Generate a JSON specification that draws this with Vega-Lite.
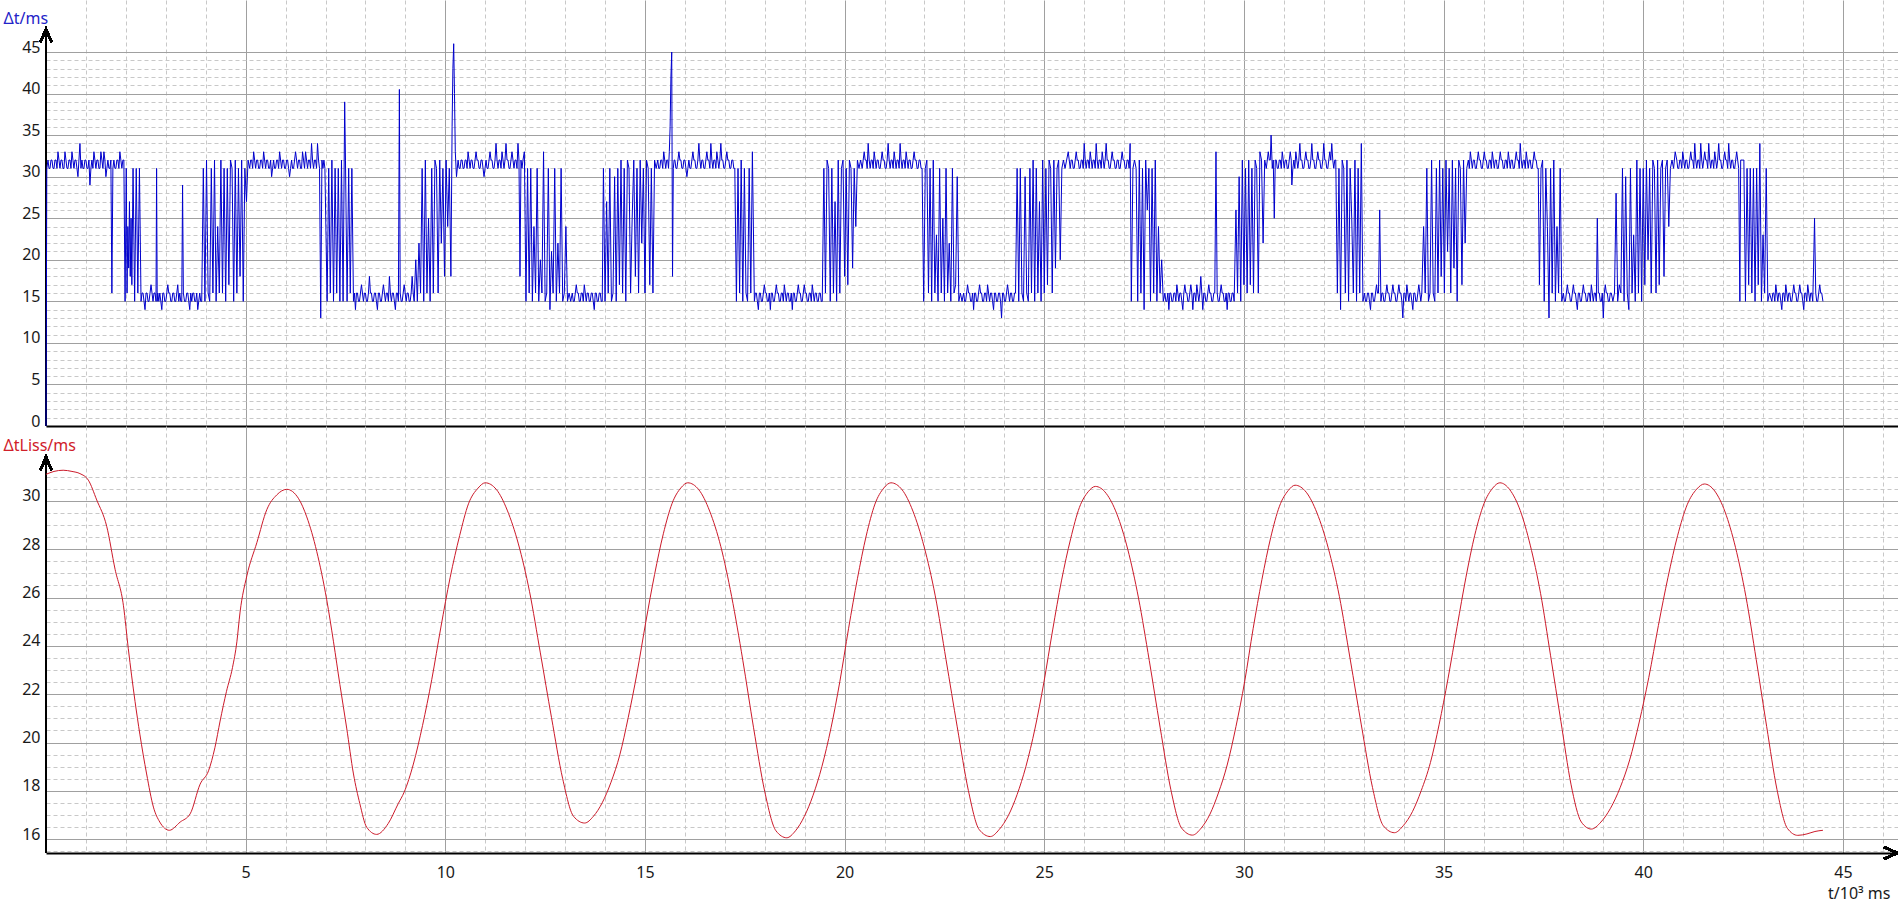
{
"$schema": "https://vega.github.io/schema/vega-lite/v6.json",
"padding": {"left": 3, "top": 0, "right": 0, "bottom": 4},
"background": "white",
"spacing": 0,
"bounds": "flush",
"config": {
  "view": {"stroke": null},
  "font": "Noto Sans",
  "axis": {"labelFont": "Noto Sans", "titleFont": "Noto Sans", "labelFontSize": 16, "titleFontSize": 16, "labelColor": "#1a1a1a", "titleColor": "#1a1a1a", "titleFontWeight": "normal", "ticks": false, "tickSize": 0, "domain": false, "labelFlush": false}
},
"datasets": {
"dt": [{"t":0,"v":0},{"t":0.02,"v":31},
{"t":0.05,"v":32},{"t":0.075,"v":31},{"t":0.1,"v":31},{"t":0.125,"v":32},{"t":0.15,"v":32},{"t":0.175,"v":31},{"t":0.2,"v":31},{"t":0.225,"v":32},{"t":0.25,"v":32},{"t":0.275,"v":31},{"t":0.3,"v":33},{"t":0.325,"v":32},{"t":0.35,"v":31},{"t":0.375,"v":32},{"t":0.4,"v":32},{"t":0.425,"v":31},{"t":0.45,"v":31},{"t":0.475,"v":33},{"t":0.5,"v":32},{"t":0.525,"v":31},{"t":0.55,"v":31},{"t":0.575,"v":32},{"t":0.6,"v":32},{"t":0.625,"v":31},{"t":0.65,"v":33},{"t":0.675,"v":32},{"t":0.7,"v":31},{"t":0.725,"v":32},{"t":0.75,"v":32},{"t":0.775,"v":31},{"t":0.8,"v":30},{"t":0.825,"v":32},{"t":0.85,"v":34},{"t":0.875,"v":31},{"t":0.9,"v":32},{"t":0.925,"v":31},{"t":0.95,"v":31},{"t":0.975,"v":32},{"t":1,"v":32},{"t":1.025,"v":31},{"t":1.05,"v":31},{"t":1.075,"v":32},{"t":1.1,"v":29},{"t":1.125,"v":31},{"t":1.15,"v":32},{"t":1.175,"v":31},{"t":1.2,"v":33},{"t":1.225,"v":32},{"t":1.25,"v":31},{"t":1.275,"v":32},{"t":1.3,"v":32},{"t":1.325,"v":31},{"t":1.35,"v":31},{"t":1.375,"v":33},{"t":1.4,"v":32},{"t":1.425,"v":31},{"t":1.45,"v":33},{"t":1.475,"v":32},{"t":1.5,"v":30},{"t":1.525,"v":31},{"t":1.55,"v":32},{"t":1.575,"v":31},{"t":1.6,"v":31},{"t":1.625,"v":32},{"t":1.65,"v":16},{"t":1.675,"v":31},{"t":1.7,"v":32},{"t":1.725,"v":31},{"t":1.75,"v":31},{"t":1.775,"v":32},{"t":1.8,"v":32},{"t":1.825,"v":31},{"t":1.85,"v":33},{"t":1.875,"v":32},{"t":1.9,"v":31},{"t":1.925,"v":32},{"t":1.95,"v":32},
{"t":1.98,"v":15},{"t":2.01,"v":31},{"t":2.03,"v":16},{"t":2.05,"v":24},{"t":2.07,"v":19},{"t":2.09,"v":27},{"t":2.11,"v":18},{"t":2.13,"v":25},{"t":2.15,"v":17},{"t":2.18,"v":31},{"t":2.22,"v":15},{"t":2.26,"v":31},{"t":2.3,"v":16},{"t":2.34,"v":31},
{"t":2.38,"v":15},{"t":2.405,"v":16},{"t":2.43,"v":16},{"t":2.455,"v":15},{"t":2.48,"v":14},{"t":2.505,"v":16},{"t":2.53,"v":16},{"t":2.555,"v":15},{"t":2.58,"v":15},{"t":2.605,"v":16},{"t":2.63,"v":17},{"t":2.655,"v":16},{"t":2.68,"v":15},{"t":2.705,"v":16},{"t":2.73,"v":16},{"t":2.755,"v":15},{"t":2.77,"v":31},{"t":2.785,"v":15},{"t":2.8,"v":16},{"t":2.825,"v":15},{"t":2.85,"v":16},{"t":2.875,"v":15},{"t":2.9,"v":14},{"t":2.925,"v":16},{"t":2.95,"v":16},{"t":2.975,"v":15},{"t":3,"v":15},{"t":3.025,"v":16},{"t":3.05,"v":17},{"t":3.075,"v":16},{"t":3.1,"v":16},{"t":3.125,"v":15},{"t":3.15,"v":15},{"t":3.175,"v":16},{"t":3.2,"v":16},{"t":3.225,"v":15},{"t":3.25,"v":15},{"t":3.275,"v":16},{"t":3.3,"v":17},{"t":3.325,"v":15},{"t":3.35,"v":16},{"t":3.375,"v":15},{"t":3.4,"v":15},{"t":3.42,"v":29},{"t":3.44,"v":16},{"t":3.47,"v":15},{"t":3.5,"v":15},{"t":3.525,"v":16},{"t":3.55,"v":16},{"t":3.575,"v":15},{"t":3.6,"v":14},{"t":3.625,"v":16},{"t":3.65,"v":15},{"t":3.675,"v":16},{"t":3.7,"v":16},{"t":3.725,"v":15},{"t":3.75,"v":15},{"t":3.775,"v":16},{"t":3.8,"v":14},{"t":3.825,"v":15},{"t":3.85,"v":16},{"t":3.875,"v":15},{"t":3.9,"v":15},
{"t":3.94,"v":31},{"t":3.98,"v":15},{"t":4.02,"v":32},{"t":4.06,"v":16},{"t":4.1,"v":15},{"t":4.14,"v":31},{"t":4.18,"v":16},{"t":4.22,"v":32},{"t":4.26,"v":15},{"t":4.3,"v":24},{"t":4.34,"v":16},{"t":4.38,"v":32},{"t":4.42,"v":16},{"t":4.46,"v":31},{"t":4.5,"v":15},{"t":4.54,"v":31},{"t":4.58,"v":17},{"t":4.62,"v":32},{"t":4.66,"v":31},{"t":4.7,"v":15},{"t":4.74,"v":32},{"t":4.78,"v":16},{"t":4.82,"v":31},{"t":4.86,"v":18},{"t":4.9,"v":32},{"t":4.94,"v":15},{"t":4.98,"v":31},{"t":5.02,"v":27},{"t":5.06,"v":32},
{"t":5.1,"v":31},{"t":5.125,"v":32},{"t":5.15,"v":32},{"t":5.175,"v":31},{"t":5.2,"v":33},{"t":5.225,"v":32},{"t":5.25,"v":31},{"t":5.275,"v":32},{"t":5.3,"v":32},{"t":5.325,"v":31},{"t":5.35,"v":31},{"t":5.375,"v":32},{"t":5.4,"v":32},{"t":5.425,"v":31},{"t":5.45,"v":33},{"t":5.475,"v":32},{"t":5.5,"v":31},{"t":5.525,"v":32},{"t":5.55,"v":32},{"t":5.575,"v":31},{"t":5.6,"v":31},{"t":5.625,"v":32},{"t":5.65,"v":30},{"t":5.675,"v":31},{"t":5.7,"v":32},{"t":5.725,"v":31},{"t":5.75,"v":31},{"t":5.775,"v":32},{"t":5.8,"v":32},{"t":5.825,"v":31},{"t":5.85,"v":33},{"t":5.875,"v":32},{"t":5.9,"v":31},{"t":5.925,"v":32},{"t":5.95,"v":32},{"t":5.975,"v":31},{"t":6,"v":31},{"t":6.025,"v":32},{"t":6.05,"v":32},{"t":6.075,"v":31},{"t":6.1,"v":30},{"t":6.125,"v":31},{"t":6.15,"v":32},{"t":6.175,"v":31},{"t":6.2,"v":31},{"t":6.225,"v":32},{"t":6.25,"v":33},{"t":6.275,"v":32},{"t":6.3,"v":31},{"t":6.325,"v":32},{"t":6.35,"v":32},{"t":6.375,"v":31},{"t":6.4,"v":31},{"t":6.425,"v":33},{"t":6.45,"v":32},{"t":6.475,"v":31},{"t":6.5,"v":33},{"t":6.525,"v":32},{"t":6.55,"v":31},{"t":6.575,"v":32},{"t":6.6,"v":32},{"t":6.625,"v":31},{"t":6.65,"v":34},{"t":6.675,"v":32},{"t":6.7,"v":31},{"t":6.725,"v":32},{"t":6.75,"v":32},{"t":6.775,"v":31},{"t":6.8,"v":34},{"t":6.825,"v":32},{"t":6.85,"v":31},{"t":6.88,"v":13},{"t":6.91,"v":32},{"t":6.935,"v":31},{"t":6.96,"v":32},{"t":6.985,"v":31},
{"t":7.04,"v":15},{"t":7.08,"v":31},{"t":7.12,"v":16},{"t":7.16,"v":32},{"t":7.2,"v":15},{"t":7.24,"v":31},{"t":7.28,"v":16},{"t":7.32,"v":31},{"t":7.36,"v":15},{"t":7.4,"v":32},{"t":7.44,"v":15},{"t":7.48,"v":39},{"t":7.5,"v":32},{"t":7.54,"v":15},{"t":7.58,"v":31},{"t":7.62,"v":16},{"t":7.66,"v":31},
{"t":7.7,"v":15},{"t":7.725,"v":16},{"t":7.75,"v":14},{"t":7.775,"v":16},{"t":7.8,"v":16},{"t":7.825,"v":15},{"t":7.85,"v":15},{"t":7.875,"v":16},{"t":7.9,"v":17},{"t":7.925,"v":16},{"t":7.95,"v":15},{"t":7.975,"v":16},{"t":8,"v":16},{"t":8.025,"v":15},{"t":8.05,"v":15},{"t":8.075,"v":16},{"t":8.1,"v":18},{"t":8.125,"v":16},{"t":8.15,"v":16},{"t":8.175,"v":15},{"t":8.2,"v":15},{"t":8.225,"v":16},{"t":8.25,"v":16},{"t":8.275,"v":15},{"t":8.3,"v":14},{"t":8.325,"v":16},{"t":8.35,"v":16},{"t":8.375,"v":15},{"t":8.4,"v":15},{"t":8.425,"v":16},{"t":8.45,"v":17},{"t":8.475,"v":16},{"t":8.5,"v":15},{"t":8.525,"v":16},{"t":8.55,"v":16},{"t":8.575,"v":15},{"t":8.6,"v":18},{"t":8.625,"v":16},{"t":8.65,"v":15},{"t":8.675,"v":16},{"t":8.7,"v":16},{"t":8.725,"v":15},{"t":8.75,"v":14},{"t":8.775,"v":16},{"t":8.8,"v":16},{"t":8.825,"v":15},{"t":8.85,"v":40.5},{"t":8.87,"v":16},{"t":8.895,"v":15},{"t":8.92,"v":15},{"t":8.945,"v":16},{"t":8.97,"v":17},{"t":8.995,"v":16},{"t":9.02,"v":15},{"t":9.045,"v":16},{"t":9.07,"v":16},{"t":9.095,"v":15},{"t":9.12,"v":15},{"t":9.145,"v":16},{"t":9.17,"v":18},{"t":9.195,"v":16},{"t":9.22,"v":15},
{"t":9.26,"v":20},{"t":9.3,"v":15},{"t":9.34,"v":22},{"t":9.38,"v":16},{"t":9.42,"v":31},{"t":9.46,"v":15},{"t":9.5,"v":32},{"t":9.54,"v":16},{"t":9.58,"v":25},{"t":9.62,"v":15},{"t":9.66,"v":31},{"t":9.7,"v":16},{"t":9.74,"v":32},{"t":9.78,"v":31},{"t":9.82,"v":16},{"t":9.86,"v":32},{"t":9.9,"v":22},{"t":9.94,"v":31},{"t":9.98,"v":18},{"t":10.02,"v":32},{"t":10.06,"v":24},{"t":10.1,"v":31},{"t":10.14,"v":18},
{"t":10.17,"v":36},{"t":10.19,"v":43},{"t":10.21,"v":46},{"t":10.23,"v":40},{"t":10.25,"v":33},{"t":10.28,"v":30},
{"t":10.32,"v":32},{"t":10.345,"v":31},{"t":10.37,"v":31},{"t":10.395,"v":32},{"t":10.42,"v":32},{"t":10.445,"v":31},{"t":10.47,"v":31},{"t":10.495,"v":32},{"t":10.52,"v":32},{"t":10.545,"v":31},{"t":10.57,"v":33},{"t":10.595,"v":32},{"t":10.62,"v":31},{"t":10.645,"v":32},{"t":10.67,"v":32},{"t":10.695,"v":31},{"t":10.72,"v":31},{"t":10.745,"v":32},{"t":10.77,"v":33},{"t":10.795,"v":32},{"t":10.82,"v":32},{"t":10.845,"v":31},{"t":10.87,"v":31},{"t":10.895,"v":32},{"t":10.92,"v":32},{"t":10.945,"v":31},{"t":10.97,"v":30},{"t":10.995,"v":31},{"t":11.02,"v":32},{"t":11.045,"v":31},{"t":11.07,"v":31},{"t":11.095,"v":32},{"t":11.12,"v":33},{"t":11.145,"v":32},{"t":11.17,"v":32},{"t":11.195,"v":31},{"t":11.22,"v":31},{"t":11.245,"v":32},{"t":11.27,"v":34},{"t":11.295,"v":32},{"t":11.32,"v":31},{"t":11.345,"v":32},{"t":11.37,"v":32},{"t":11.395,"v":31},{"t":11.42,"v":33},{"t":11.445,"v":32},{"t":11.47,"v":31},{"t":11.495,"v":32},{"t":11.52,"v":34},{"t":11.545,"v":32},{"t":11.57,"v":32},{"t":11.595,"v":31},{"t":11.62,"v":31},{"t":11.645,"v":32},{"t":11.67,"v":33},{"t":11.695,"v":32},{"t":11.72,"v":31},{"t":11.745,"v":32},{"t":11.77,"v":32},{"t":11.795,"v":31},{"t":11.82,"v":34},{"t":11.845,"v":32},{"t":11.87,"v":18},{"t":11.895,"v":32},{"t":11.92,"v":31},{"t":11.945,"v":32},
{"t":11.98,"v":33},{"t":12.02,"v":15},{"t":12.06,"v":31},{"t":12.1,"v":16},{"t":12.14,"v":31},{"t":12.18,"v":15},{"t":12.22,"v":24},{"t":12.26,"v":16},{"t":12.3,"v":31},{"t":12.34,"v":15},{"t":12.38,"v":20},{"t":12.42,"v":16},{"t":12.46,"v":33},{"t":12.5,"v":15},{"t":12.54,"v":16},{"t":12.58,"v":31},{"t":12.62,"v":14},{"t":12.66,"v":21},{"t":12.7,"v":16},{"t":12.74,"v":31},{"t":12.78,"v":15},{"t":12.82,"v":22},{"t":12.86,"v":16},{"t":12.9,"v":31},{"t":12.94,"v":15},{"t":12.98,"v":16},{"t":13.02,"v":24},{"t":13.06,"v":15},{"t":13.1,"v":16},{"t":13.14,"v":15},
{"t":13.18,"v":16},{"t":13.205,"v":15},{"t":13.23,"v":15},{"t":13.255,"v":16},{"t":13.28,"v":17},{"t":13.305,"v":16},{"t":13.33,"v":16},{"t":13.355,"v":15},{"t":13.38,"v":15},{"t":13.405,"v":16},{"t":13.43,"v":16},{"t":13.455,"v":15},{"t":13.48,"v":17},{"t":13.505,"v":16},{"t":13.53,"v":15},{"t":13.555,"v":16},{"t":13.58,"v":16},{"t":13.605,"v":15},{"t":13.63,"v":15},{"t":13.655,"v":16},{"t":13.68,"v":16},{"t":13.705,"v":15},{"t":13.73,"v":14},{"t":13.755,"v":16},{"t":13.78,"v":16},{"t":13.805,"v":15},{"t":13.83,"v":15},{"t":13.855,"v":16},{"t":13.88,"v":16},{"t":13.905,"v":15},{"t":13.93,"v":15},
{"t":13.96,"v":31},{"t":14,"v":15},{"t":14.04,"v":27},{"t":14.08,"v":16},{"t":14.12,"v":31},{"t":14.16,"v":15},{"t":14.2,"v":16},{"t":14.24,"v":30},{"t":14.28,"v":15},{"t":14.32,"v":31},{"t":14.36,"v":17},{"t":14.4,"v":32},{"t":14.44,"v":16},{"t":14.48,"v":31},{"t":14.52,"v":15},{"t":14.56,"v":32},{"t":14.6,"v":31},{"t":14.64,"v":16},{"t":14.68,"v":25},{"t":14.72,"v":32},{"t":14.76,"v":18},{"t":14.8,"v":31},{"t":14.84,"v":16},{"t":14.88,"v":32},{"t":14.92,"v":22},{"t":14.96,"v":31},{"t":15,"v":16},{"t":15.04,"v":32},{"t":15.08,"v":31},{"t":15.12,"v":17},{"t":15.16,"v":31},{"t":15.2,"v":16},{"t":15.24,"v":32},{"t":15.28,"v":31},
{"t":15.32,"v":32},{"t":15.345,"v":31},{"t":15.37,"v":31},{"t":15.395,"v":32},{"t":15.42,"v":32},{"t":15.445,"v":31},{"t":15.47,"v":33},{"t":15.495,"v":32},{"t":15.52,"v":31},{"t":15.545,"v":32},{"t":15.57,"v":32},{"t":15.59,"v":31},{"t":15.61,"v":33},{"t":15.63,"v":36},{"t":15.65,"v":42},{"t":15.67,"v":45},{"t":15.69,"v":18},{"t":15.71,"v":31},{"t":15.73,"v":32},{"t":15.75,"v":32},{"t":15.775,"v":31},{"t":15.8,"v":31},{"t":15.825,"v":32},{"t":15.85,"v":33},{"t":15.875,"v":32},{"t":15.9,"v":32},{"t":15.925,"v":31},{"t":15.95,"v":31},{"t":15.975,"v":32},{"t":16,"v":32},{"t":16.025,"v":31},{"t":16.05,"v":30},{"t":16.075,"v":31},{"t":16.1,"v":32},{"t":16.125,"v":31},{"t":16.15,"v":31},{"t":16.175,"v":32},{"t":16.2,"v":33},{"t":16.225,"v":32},{"t":16.25,"v":32},{"t":16.275,"v":31},{"t":16.3,"v":31},{"t":16.325,"v":32},{"t":16.35,"v":34},{"t":16.375,"v":32},{"t":16.4,"v":31},{"t":16.425,"v":32},{"t":16.45,"v":32},{"t":16.475,"v":31},{"t":16.5,"v":31},{"t":16.525,"v":32},{"t":16.55,"v":33},{"t":16.575,"v":32},{"t":16.6,"v":32},{"t":16.625,"v":31},{"t":16.65,"v":34},{"t":16.675,"v":32},{"t":16.7,"v":31},{"t":16.725,"v":32},{"t":16.75,"v":32},{"t":16.775,"v":31},{"t":16.8,"v":33},{"t":16.825,"v":32},{"t":16.85,"v":31},{"t":16.875,"v":32},{"t":16.9,"v":34},{"t":16.925,"v":32},{"t":16.95,"v":32},{"t":16.975,"v":31},{"t":17,"v":31},{"t":17.025,"v":32},{"t":17.05,"v":33},{"t":17.075,"v":32},{"t":17.1,"v":32},{"t":17.125,"v":31},{"t":17.15,"v":31},{"t":17.175,"v":32},{"t":17.2,"v":32},{"t":17.225,"v":31},{"t":17.25,"v":31},
{"t":17.29,"v":15},{"t":17.33,"v":31},{"t":17.37,"v":16},{"t":17.41,"v":32},{"t":17.45,"v":15},{"t":17.49,"v":31},{"t":17.53,"v":16},{"t":17.57,"v":15},{"t":17.61,"v":31},{"t":17.65,"v":16},{"t":17.69,"v":33},
{"t":17.74,"v":15},{"t":17.765,"v":16},{"t":17.79,"v":16},{"t":17.815,"v":15},{"t":17.84,"v":14},{"t":17.865,"v":16},{"t":17.89,"v":16},{"t":17.915,"v":15},{"t":17.94,"v":15},{"t":17.965,"v":16},{"t":17.99,"v":17},{"t":18.015,"v":16},{"t":18.04,"v":16},{"t":18.065,"v":15},{"t":18.09,"v":15},{"t":18.115,"v":16},{"t":18.14,"v":14},{"t":18.165,"v":16},{"t":18.19,"v":16},{"t":18.215,"v":15},{"t":18.24,"v":15},{"t":18.265,"v":16},{"t":18.29,"v":17},{"t":18.315,"v":16},{"t":18.34,"v":16},{"t":18.365,"v":15},{"t":18.39,"v":15},{"t":18.415,"v":16},{"t":18.44,"v":16},{"t":18.465,"v":15},{"t":18.49,"v":17},{"t":18.515,"v":16},{"t":18.54,"v":15},{"t":18.565,"v":16},{"t":18.59,"v":16},{"t":18.615,"v":15},{"t":18.64,"v":15},{"t":18.665,"v":16},{"t":18.69,"v":14},{"t":18.715,"v":16},{"t":18.74,"v":16},{"t":18.765,"v":15},{"t":18.79,"v":15},{"t":18.815,"v":16},{"t":18.84,"v":17},{"t":18.865,"v":16},{"t":18.89,"v":16},{"t":18.915,"v":15},{"t":18.94,"v":15},{"t":18.965,"v":16},{"t":18.99,"v":17},{"t":19.015,"v":16},{"t":19.04,"v":16},{"t":19.065,"v":15},{"t":19.09,"v":15},{"t":19.115,"v":16},{"t":19.14,"v":16},{"t":19.165,"v":15},{"t":19.19,"v":17},{"t":19.215,"v":16},{"t":19.24,"v":15},{"t":19.265,"v":16},{"t":19.29,"v":16},{"t":19.315,"v":15},{"t":19.34,"v":15},{"t":19.365,"v":16},{"t":19.39,"v":16},{"t":19.415,"v":15},{"t":19.44,"v":15},
{"t":19.48,"v":31},{"t":19.52,"v":16},{"t":19.56,"v":32},{"t":19.6,"v":31},{"t":19.64,"v":15},{"t":19.68,"v":31},{"t":19.72,"v":16},{"t":19.76,"v":27},{"t":19.8,"v":15},{"t":19.84,"v":32},{"t":19.88,"v":16},{"t":19.92,"v":31},{"t":19.96,"v":32},{"t":20,"v":18},{"t":20.04,"v":31},{"t":20.08,"v":17},{"t":20.12,"v":32},{"t":20.16,"v":31},{"t":20.2,"v":19},{"t":20.24,"v":31},{"t":20.28,"v":24},{"t":20.32,"v":32},{"t":20.36,"v":31},{"t":20.4,"v":32},
{"t":20.44,"v":31},{"t":20.465,"v":32},{"t":20.49,"v":33},{"t":20.515,"v":32},{"t":20.54,"v":32},{"t":20.565,"v":31},{"t":20.59,"v":34},{"t":20.615,"v":32},{"t":20.64,"v":31},{"t":20.665,"v":32},{"t":20.69,"v":32},{"t":20.715,"v":31},{"t":20.74,"v":33},{"t":20.765,"v":32},{"t":20.79,"v":31},{"t":20.815,"v":32},{"t":20.84,"v":32},{"t":20.865,"v":31},{"t":20.89,"v":31},{"t":20.915,"v":32},{"t":20.94,"v":33},{"t":20.965,"v":32},{"t":20.99,"v":32},{"t":21.015,"v":31},{"t":21.04,"v":31},{"t":21.065,"v":32},{"t":21.09,"v":34},{"t":21.115,"v":32},{"t":21.14,"v":31},{"t":21.165,"v":32},{"t":21.19,"v":32},{"t":21.215,"v":31},{"t":21.24,"v":33},{"t":21.265,"v":32},{"t":21.29,"v":31},{"t":21.315,"v":32},{"t":21.34,"v":32},{"t":21.365,"v":31},{"t":21.39,"v":34},{"t":21.415,"v":32},{"t":21.44,"v":31},{"t":21.465,"v":32},{"t":21.49,"v":32},{"t":21.515,"v":31},{"t":21.54,"v":33},{"t":21.565,"v":32},{"t":21.59,"v":31},{"t":21.615,"v":32},{"t":21.64,"v":32},{"t":21.665,"v":31},{"t":21.69,"v":31},{"t":21.715,"v":32},{"t":21.74,"v":33},{"t":21.765,"v":32},{"t":21.79,"v":32},{"t":21.815,"v":31},{"t":21.84,"v":31},{"t":21.865,"v":32},{"t":21.89,"v":32},{"t":21.915,"v":31},{"t":21.94,"v":31},
{"t":21.98,"v":15},{"t":22.02,"v":31},{"t":22.06,"v":32},{"t":22.1,"v":16},{"t":22.14,"v":31},{"t":22.18,"v":15},{"t":22.22,"v":32},{"t":22.26,"v":16},{"t":22.3,"v":23},{"t":22.34,"v":15},{"t":22.38,"v":31},{"t":22.42,"v":16},{"t":22.46,"v":25},{"t":22.5,"v":15},{"t":22.54,"v":31},{"t":22.58,"v":16},{"t":22.62,"v":22},{"t":22.66,"v":15},{"t":22.7,"v":31},{"t":22.74,"v":16},{"t":22.78,"v":17},{"t":22.82,"v":30},{"t":22.86,"v":15},{"t":22.9,"v":16},{"t":22.94,"v":15},
{"t":22.98,"v":16},{"t":23.005,"v":15},{"t":23.03,"v":15},{"t":23.055,"v":16},{"t":23.08,"v":17},{"t":23.105,"v":16},{"t":23.13,"v":16},{"t":23.155,"v":15},{"t":23.18,"v":15},{"t":23.205,"v":16},{"t":23.23,"v":14},{"t":23.255,"v":16},{"t":23.28,"v":16},{"t":23.305,"v":15},{"t":23.33,"v":15},{"t":23.355,"v":16},{"t":23.38,"v":17},{"t":23.405,"v":16},{"t":23.43,"v":16},{"t":23.455,"v":15},{"t":23.48,"v":15},{"t":23.505,"v":16},{"t":23.53,"v":16},{"t":23.555,"v":15},{"t":23.58,"v":17},{"t":23.605,"v":16},{"t":23.63,"v":15},{"t":23.655,"v":16},{"t":23.68,"v":16},{"t":23.705,"v":15},{"t":23.73,"v":14},{"t":23.755,"v":16},{"t":23.78,"v":16},{"t":23.805,"v":15},{"t":23.83,"v":15},{"t":23.855,"v":16},{"t":23.88,"v":16},{"t":23.905,"v":15},{"t":23.93,"v":13},{"t":23.955,"v":16},{"t":23.98,"v":16},{"t":24.005,"v":15},{"t":24.03,"v":15},{"t":24.055,"v":16},{"t":24.08,"v":17},{"t":24.105,"v":16},{"t":24.13,"v":15},{"t":24.155,"v":16},{"t":24.18,"v":16},{"t":24.205,"v":15},{"t":24.23,"v":15},{"t":24.255,"v":16},{"t":24.28,"v":16},
{"t":24.32,"v":31},{"t":24.36,"v":15},{"t":24.4,"v":31},{"t":24.44,"v":16},{"t":24.48,"v":15},{"t":24.52,"v":30},{"t":24.56,"v":16},{"t":24.6,"v":15},{"t":24.64,"v":31},{"t":24.68,"v":16},{"t":24.72,"v":32},{"t":24.76,"v":15},{"t":24.8,"v":31},{"t":24.84,"v":16},{"t":24.88,"v":27},{"t":24.92,"v":15},{"t":24.96,"v":32},{"t":25,"v":16},{"t":25.04,"v":31},{"t":25.08,"v":17},{"t":25.12,"v":32},{"t":25.16,"v":31},{"t":25.2,"v":16},{"t":25.24,"v":32},{"t":25.28,"v":19},{"t":25.32,"v":31},{"t":25.36,"v":32},{"t":25.4,"v":20},{"t":25.44,"v":31},{"t":25.48,"v":32},{"t":25.52,"v":31},{"t":25.56,"v":32},
{"t":25.6,"v":33},{"t":25.625,"v":32},{"t":25.65,"v":31},{"t":25.675,"v":32},{"t":25.7,"v":32},{"t":25.725,"v":31},{"t":25.75,"v":31},{"t":25.775,"v":32},{"t":25.8,"v":33},{"t":25.825,"v":32},{"t":25.85,"v":32},{"t":25.875,"v":31},{"t":25.9,"v":31},{"t":25.925,"v":32},{"t":25.95,"v":32},{"t":25.975,"v":31},{"t":26,"v":34},{"t":26.025,"v":32},{"t":26.05,"v":31},{"t":26.075,"v":32},{"t":26.1,"v":32},{"t":26.125,"v":31},{"t":26.15,"v":33},{"t":26.175,"v":32},{"t":26.2,"v":31},{"t":26.225,"v":32},{"t":26.25,"v":32},{"t":26.275,"v":31},{"t":26.3,"v":34},{"t":26.325,"v":32},{"t":26.35,"v":31},{"t":26.375,"v":32},{"t":26.4,"v":32},{"t":26.425,"v":31},{"t":26.45,"v":33},{"t":26.475,"v":32},{"t":26.5,"v":31},{"t":26.525,"v":32},{"t":26.55,"v":34},{"t":26.575,"v":32},{"t":26.6,"v":32},{"t":26.625,"v":31},{"t":26.65,"v":31},{"t":26.675,"v":32},{"t":26.7,"v":33},{"t":26.725,"v":32},{"t":26.75,"v":32},{"t":26.775,"v":31},{"t":26.8,"v":31},{"t":26.825,"v":32},{"t":26.85,"v":32},{"t":26.875,"v":31},{"t":26.9,"v":31},{"t":26.925,"v":32},{"t":26.95,"v":33},{"t":26.975,"v":32},{"t":27,"v":32},{"t":27.025,"v":31},{"t":27.05,"v":31},{"t":27.075,"v":32},{"t":27.1,"v":32},{"t":27.125,"v":31},{"t":27.15,"v":34},
{"t":27.18,"v":15},{"t":27.22,"v":31},{"t":27.26,"v":32},{"t":27.3,"v":31},{"t":27.34,"v":15},{"t":27.38,"v":32},{"t":27.42,"v":16},{"t":27.46,"v":31},{"t":27.5,"v":14},{"t":27.54,"v":32},{"t":27.58,"v":26},{"t":27.62,"v":31},{"t":27.66,"v":15},{"t":27.7,"v":31},{"t":27.74,"v":16},{"t":27.78,"v":32},{"t":27.82,"v":15},{"t":27.86,"v":24},{"t":27.9,"v":16},{"t":27.94,"v":20},{"t":27.98,"v":15},
{"t":28.02,"v":16},{"t":28.045,"v":15},{"t":28.07,"v":15},{"t":28.095,"v":16},{"t":28.12,"v":14},{"t":28.145,"v":16},{"t":28.17,"v":16},{"t":28.195,"v":15},{"t":28.22,"v":15},{"t":28.245,"v":16},{"t":28.27,"v":16},{"t":28.295,"v":15},{"t":28.32,"v":17},{"t":28.345,"v":16},{"t":28.37,"v":15},{"t":28.395,"v":16},{"t":28.42,"v":16},{"t":28.445,"v":15},{"t":28.47,"v":14},{"t":28.495,"v":16},{"t":28.52,"v":17},{"t":28.545,"v":16},{"t":28.57,"v":16},{"t":28.595,"v":15},{"t":28.62,"v":15},{"t":28.645,"v":16},{"t":28.67,"v":17},{"t":28.695,"v":16},{"t":28.72,"v":14},{"t":28.745,"v":16},{"t":28.77,"v":16},{"t":28.795,"v":15},{"t":28.82,"v":17},{"t":28.845,"v":16},{"t":28.87,"v":15},{"t":28.895,"v":16},{"t":28.92,"v":18},{"t":28.945,"v":16},{"t":28.97,"v":14},{"t":28.995,"v":16},{"t":29.02,"v":16},{"t":29.045,"v":15},{"t":29.07,"v":15},{"t":29.095,"v":16},{"t":29.12,"v":17},{"t":29.145,"v":16},{"t":29.17,"v":16},{"t":29.195,"v":15},{"t":29.22,"v":15},{"t":29.245,"v":16},{"t":29.27,"v":16},{"t":29.3,"v":33},{"t":29.33,"v":16},{"t":29.355,"v":15},{"t":29.38,"v":15},{"t":29.405,"v":16},{"t":29.43,"v":17},{"t":29.455,"v":16},{"t":29.48,"v":16},{"t":29.505,"v":15},{"t":29.53,"v":15},{"t":29.555,"v":16},{"t":29.58,"v":14},{"t":29.605,"v":16},{"t":29.63,"v":16},{"t":29.655,"v":15},{"t":29.68,"v":15},{"t":29.705,"v":16},{"t":29.73,"v":16},{"t":29.755,"v":15},
{"t":29.8,"v":26},{"t":29.84,"v":16},{"t":29.88,"v":30},{"t":29.92,"v":15},{"t":29.96,"v":32},{"t":30,"v":17},{"t":30.04,"v":31},{"t":30.08,"v":16},{"t":30.12,"v":32},{"t":30.16,"v":17},{"t":30.2,"v":31},{"t":30.24,"v":16},{"t":30.28,"v":32},{"t":30.32,"v":31},{"t":30.36,"v":16},{"t":30.4,"v":33},{"t":30.44,"v":32},{"t":30.48,"v":22},{"t":30.52,"v":32},
{"t":30.56,"v":31},{"t":30.585,"v":32},{"t":30.61,"v":33},{"t":30.635,"v":32},{"t":30.66,"v":32},{"t":30.68,"v":35},{"t":30.71,"v":31},{"t":30.735,"v":32},{"t":30.76,"v":25},{"t":30.785,"v":32},{"t":30.81,"v":32},{"t":30.835,"v":31},{"t":30.86,"v":31},{"t":30.885,"v":32},{"t":30.91,"v":32},{"t":30.935,"v":31},{"t":30.96,"v":33},{"t":30.985,"v":32},{"t":31.01,"v":31},{"t":31.035,"v":32},{"t":31.06,"v":32},{"t":31.085,"v":31},{"t":31.11,"v":31},{"t":31.135,"v":32},{"t":31.16,"v":33},{"t":31.185,"v":32},{"t":31.2,"v":29},{"t":31.225,"v":31},{"t":31.25,"v":32},{"t":31.275,"v":31},{"t":31.3,"v":33},{"t":31.325,"v":32},{"t":31.35,"v":31},{"t":31.375,"v":32},{"t":31.4,"v":34},{"t":31.425,"v":32},{"t":31.45,"v":32},{"t":31.475,"v":31},{"t":31.5,"v":31},{"t":31.525,"v":32},{"t":31.55,"v":33},{"t":31.575,"v":32},{"t":31.6,"v":32},{"t":31.625,"v":31},{"t":31.65,"v":31},{"t":31.675,"v":32},{"t":31.7,"v":34},{"t":31.725,"v":32},{"t":31.75,"v":32},{"t":31.775,"v":31},{"t":31.8,"v":31},{"t":31.825,"v":32},{"t":31.85,"v":33},{"t":31.875,"v":32},{"t":31.9,"v":32},{"t":31.925,"v":31},{"t":31.95,"v":31},{"t":31.975,"v":32},{"t":32,"v":34},{"t":32.025,"v":32},{"t":32.05,"v":32},{"t":32.075,"v":31},{"t":32.1,"v":31},{"t":32.125,"v":32},{"t":32.15,"v":33},{"t":32.175,"v":32},{"t":32.2,"v":34},{"t":32.225,"v":32},{"t":32.25,"v":31},{"t":32.275,"v":32},{"t":32.3,"v":32},
{"t":32.34,"v":16},{"t":32.38,"v":31},{"t":32.42,"v":14},{"t":32.46,"v":32},{"t":32.5,"v":31},{"t":32.54,"v":16},{"t":32.58,"v":32},{"t":32.62,"v":15},{"t":32.66,"v":31},{"t":32.7,"v":25},{"t":32.74,"v":16},{"t":32.78,"v":32},{"t":32.82,"v":15},{"t":32.86,"v":31},{"t":32.9,"v":16},{"t":32.94,"v":34},{"t":32.98,"v":15},
{"t":33.02,"v":16},{"t":33.045,"v":15},{"t":33.07,"v":15},{"t":33.095,"v":16},{"t":33.12,"v":16},{"t":33.145,"v":15},{"t":33.17,"v":14},{"t":33.195,"v":16},{"t":33.22,"v":16},{"t":33.245,"v":15},{"t":33.27,"v":15},{"t":33.295,"v":16},{"t":33.32,"v":17},{"t":33.345,"v":16},{"t":33.37,"v":16},{"t":33.4,"v":26},{"t":33.43,"v":15},{"t":33.455,"v":16},{"t":33.48,"v":16},{"t":33.505,"v":15},{"t":33.53,"v":15},{"t":33.555,"v":16},{"t":33.58,"v":17},{"t":33.605,"v":16},{"t":33.63,"v":16},{"t":33.655,"v":15},{"t":33.68,"v":15},{"t":33.705,"v":16},{"t":33.73,"v":17},{"t":33.755,"v":16},{"t":33.78,"v":16},{"t":33.805,"v":15},{"t":33.83,"v":15},{"t":33.855,"v":16},{"t":33.88,"v":17},{"t":33.905,"v":16},{"t":33.93,"v":16},{"t":33.955,"v":15},{"t":33.98,"v":13},{"t":34.005,"v":16},{"t":34.03,"v":16},{"t":34.055,"v":15},{"t":34.08,"v":17},{"t":34.105,"v":16},{"t":34.13,"v":15},{"t":34.155,"v":16},{"t":34.18,"v":16},{"t":34.205,"v":15},{"t":34.23,"v":14},{"t":34.255,"v":16},{"t":34.28,"v":16},{"t":34.305,"v":15},{"t":34.33,"v":15},{"t":34.355,"v":16},{"t":34.38,"v":17},{"t":34.405,"v":16},{"t":34.43,"v":15},{"t":34.455,"v":16},
{"t":34.5,"v":24},{"t":34.54,"v":16},{"t":34.58,"v":31},{"t":34.62,"v":15},{"t":34.66,"v":16},{"t":34.7,"v":32},{"t":34.74,"v":16},{"t":34.78,"v":15},{"t":34.82,"v":31},{"t":34.86,"v":16},{"t":34.9,"v":32},{"t":34.94,"v":18},{"t":34.98,"v":31},{"t":35.02,"v":16},{"t":35.06,"v":32},{"t":35.1,"v":21},{"t":35.14,"v":31},{"t":35.18,"v":16},{"t":35.22,"v":32},{"t":35.26,"v":19},{"t":35.3,"v":31},{"t":35.34,"v":15},{"t":35.38,"v":32},{"t":35.42,"v":31},{"t":35.46,"v":17},{"t":35.5,"v":32},{"t":35.54,"v":22},{"t":35.58,"v":31},
{"t":35.62,"v":32},{"t":35.645,"v":31},{"t":35.67,"v":33},{"t":35.695,"v":32},{"t":35.72,"v":31},{"t":35.745,"v":32},{"t":35.77,"v":32},{"t":35.795,"v":31},{"t":35.82,"v":31},{"t":35.845,"v":32},{"t":35.87,"v":33},{"t":35.895,"v":32},{"t":35.92,"v":32},{"t":35.945,"v":31},{"t":35.97,"v":31},{"t":35.995,"v":32},{"t":36.02,"v":33},{"t":36.045,"v":32},{"t":36.07,"v":32},{"t":36.095,"v":31},{"t":36.12,"v":31},{"t":36.145,"v":32},{"t":36.17,"v":32},{"t":36.195,"v":31},{"t":36.22,"v":33},{"t":36.245,"v":32},{"t":36.27,"v":31},{"t":36.295,"v":32},{"t":36.32,"v":32},{"t":36.345,"v":31},{"t":36.37,"v":31},{"t":36.395,"v":32},{"t":36.42,"v":33},{"t":36.445,"v":32},{"t":36.47,"v":32},{"t":36.495,"v":31},{"t":36.52,"v":31},{"t":36.545,"v":32},{"t":36.57,"v":32},{"t":36.595,"v":31},{"t":36.62,"v":33},{"t":36.645,"v":32},{"t":36.67,"v":31},{"t":36.695,"v":32},{"t":36.72,"v":32},{"t":36.745,"v":31},{"t":36.77,"v":31},{"t":36.795,"v":32},{"t":36.82,"v":33},{"t":36.845,"v":32},{"t":36.87,"v":32},{"t":36.895,"v":31},{"t":36.92,"v":34},{"t":36.945,"v":32},{"t":36.97,"v":31},{"t":36.995,"v":32},{"t":37.02,"v":32},{"t":37.045,"v":31},{"t":37.07,"v":33},{"t":37.095,"v":32},{"t":37.12,"v":31},{"t":37.145,"v":32},{"t":37.17,"v":32},{"t":37.195,"v":31},{"t":37.22,"v":31},{"t":37.245,"v":32},{"t":37.27,"v":33},{"t":37.295,"v":32},{"t":37.32,"v":32},{"t":37.345,"v":31},{"t":37.37,"v":31},
{"t":37.4,"v":17},{"t":37.44,"v":31},{"t":37.48,"v":32},{"t":37.52,"v":15},{"t":37.56,"v":31},{"t":37.6,"v":24},{"t":37.64,"v":13},{"t":37.68,"v":31},{"t":37.72,"v":16},{"t":37.76,"v":32},{"t":37.8,"v":15},{"t":37.84,"v":24},{"t":37.88,"v":16},{"t":37.92,"v":31},{"t":37.96,"v":15},
{"t":38,"v":16},{"t":38.025,"v":15},{"t":38.05,"v":15},{"t":38.075,"v":16},{"t":38.1,"v":17},{"t":38.125,"v":16},{"t":38.15,"v":16},{"t":38.175,"v":15},{"t":38.2,"v":15},{"t":38.225,"v":16},{"t":38.25,"v":17},{"t":38.275,"v":16},{"t":38.3,"v":16},{"t":38.325,"v":15},{"t":38.35,"v":14},{"t":38.375,"v":16},{"t":38.4,"v":16},{"t":38.425,"v":15},{"t":38.45,"v":15},{"t":38.475,"v":16},{"t":38.5,"v":17},{"t":38.525,"v":16},{"t":38.55,"v":16},{"t":38.575,"v":15},{"t":38.6,"v":15},{"t":38.625,"v":16},{"t":38.65,"v":16},{"t":38.675,"v":15},{"t":38.7,"v":17},{"t":38.725,"v":16},{"t":38.75,"v":15},{"t":38.775,"v":16},{"t":38.8,"v":16},{"t":38.825,"v":15},{"t":38.85,"v":25},{"t":38.875,"v":16},{"t":38.9,"v":16},{"t":38.925,"v":15},{"t":38.95,"v":15},{"t":38.975,"v":16},{"t":39,"v":13},{"t":39.025,"v":16},{"t":39.05,"v":17},{"t":39.075,"v":16},{"t":39.1,"v":16},{"t":39.125,"v":15},{"t":39.15,"v":15},{"t":39.175,"v":16},{"t":39.2,"v":16},
{"t":39.24,"v":15},{"t":39.28,"v":16},{"t":39.32,"v":28},{"t":39.36,"v":15},{"t":39.4,"v":17},{"t":39.44,"v":16},{"t":39.48,"v":31},{"t":39.52,"v":15},{"t":39.56,"v":30},{"t":39.6,"v":16},{"t":39.64,"v":14},{"t":39.68,"v":31},{"t":39.72,"v":16},{"t":39.76,"v":23},{"t":39.8,"v":15},{"t":39.84,"v":32},{"t":39.88,"v":16},{"t":39.92,"v":31},{"t":39.96,"v":15},{"t":40,"v":31},{"t":40.04,"v":17},{"t":40.08,"v":32},{"t":40.12,"v":20},{"t":40.16,"v":31},{"t":40.2,"v":16},{"t":40.24,"v":32},{"t":40.28,"v":31},{"t":40.32,"v":16},{"t":40.36,"v":32},{"t":40.4,"v":17},{"t":40.44,"v":31},{"t":40.48,"v":32},{"t":40.52,"v":18},{"t":40.56,"v":31},{"t":40.6,"v":32},{"t":40.64,"v":24},{"t":40.68,"v":31},{"t":40.72,"v":32},{"t":40.76,"v":31},{"t":40.8,"v":33},
{"t":40.84,"v":32},{"t":40.865,"v":31},{"t":40.89,"v":31},{"t":40.915,"v":32},{"t":40.94,"v":32},{"t":40.965,"v":31},{"t":40.99,"v":33},{"t":41.015,"v":32},{"t":41.04,"v":31},{"t":41.065,"v":32},{"t":41.09,"v":32},{"t":41.115,"v":31},{"t":41.14,"v":31},{"t":41.165,"v":32},{"t":41.19,"v":33},{"t":41.215,"v":32},{"t":41.24,"v":32},{"t":41.265,"v":31},{"t":41.29,"v":34},{"t":41.315,"v":32},{"t":41.34,"v":31},{"t":41.365,"v":32},{"t":41.39,"v":32},{"t":41.415,"v":31},{"t":41.44,"v":34},{"t":41.465,"v":32},{"t":41.49,"v":31},{"t":41.515,"v":32},{"t":41.54,"v":33},{"t":41.565,"v":32},{"t":41.59,"v":32},{"t":41.615,"v":31},{"t":41.64,"v":34},{"t":41.665,"v":32},{"t":41.69,"v":31},{"t":41.715,"v":32},{"t":41.74,"v":32},{"t":41.765,"v":31},{"t":41.79,"v":33},{"t":41.815,"v":32},{"t":41.84,"v":31},{"t":41.865,"v":32},{"t":41.89,"v":34},{"t":41.915,"v":32},{"t":41.94,"v":32},{"t":41.965,"v":31},{"t":41.99,"v":31},{"t":42.015,"v":32},{"t":42.04,"v":33},{"t":42.065,"v":32},{"t":42.09,"v":32},{"t":42.115,"v":31},{"t":42.14,"v":34},{"t":42.165,"v":32},{"t":42.19,"v":31},{"t":42.215,"v":32},{"t":42.24,"v":32},{"t":42.265,"v":31},{"t":42.29,"v":31},{"t":42.315,"v":32},{"t":42.34,"v":33},{"t":42.365,"v":32},{"t":42.39,"v":31},
{"t":42.42,"v":15},{"t":42.44,"v":32},{"t":42.48,"v":32},{"t":42.52,"v":32},{"t":42.56,"v":15},{"t":42.6,"v":31},{"t":42.64,"v":17},{"t":42.68,"v":31},{"t":42.72,"v":16},{"t":42.76,"v":31},{"t":42.8,"v":15},{"t":42.84,"v":31},{"t":42.88,"v":17},{"t":42.92,"v":34},{"t":42.96,"v":15},{"t":43,"v":23},{"t":43.04,"v":16},{"t":43.08,"v":31},{"t":43.12,"v":15},{"t":43.16,"v":16},
{"t":43.22,"v":15},{"t":43.245,"v":16},{"t":43.27,"v":16},{"t":43.295,"v":15},{"t":43.32,"v":17},{"t":43.345,"v":16},{"t":43.37,"v":15},{"t":43.395,"v":16},{"t":43.42,"v":16},{"t":43.445,"v":15},{"t":43.47,"v":14},{"t":43.495,"v":16},{"t":43.52,"v":16},{"t":43.545,"v":15},{"t":43.57,"v":17},{"t":43.595,"v":16},{"t":43.62,"v":15},{"t":43.645,"v":16},{"t":43.67,"v":16},{"t":43.695,"v":15},{"t":43.72,"v":15},{"t":43.745,"v":16},{"t":43.77,"v":17},{"t":43.795,"v":16},{"t":43.82,"v":16},{"t":43.845,"v":15},{"t":43.87,"v":15},{"t":43.895,"v":16},{"t":43.92,"v":17},{"t":43.945,"v":16},{"t":43.97,"v":16},{"t":43.995,"v":15},{"t":44.02,"v":14},{"t":44.045,"v":16},{"t":44.07,"v":16},{"t":44.095,"v":15},{"t":44.12,"v":17},{"t":44.145,"v":16},{"t":44.17,"v":15},{"t":44.195,"v":16},{"t":44.22,"v":16},{"t":44.245,"v":15},{"t":44.265,"v":19},{"t":44.29,"v":25},{"t":44.32,"v":16},{"t":44.345,"v":15},{"t":44.37,"v":15},{"t":44.395,"v":16},{"t":44.42,"v":17},{"t":44.445,"v":16},{"t":44.47,"v":16},{"t":44.5,"v":15}],
"liss": [{"t":0,"v":31.1},{"t":0.2,"v":31.22},{"t":0.43,"v":31.27},{"t":0.65,"v":31.22},{"t":0.85,"v":31.13},{"t":1.06,"v":30.86},{"t":1.27,"v":30.04},{"t":1.52,"v":28.95},{"t":1.73,"v":27.17},{"t":1.94,"v":25.66},{"t":2.06,"v":23.9},{"t":2.23,"v":21.7},{"t":2.35,"v":20.35},{"t":2.52,"v":18.7},{"t":2.69,"v":17.33},{"t":2.85,"v":16.71},{"t":3.09,"v":16.37},{"t":3.36,"v":16.71},{"t":3.61,"v":17.05},{"t":3.86,"v":18.28},{"t":4.07,"v":18.83},{"t":4.23,"v":19.79},{"t":4.36,"v":20.89},{"t":4.52,"v":22.12},{"t":4.67,"v":23.1},{"t":4.78,"v":24.17},{"t":4.86,"v":25.4},{"t":5.03,"v":26.9},{"t":5.28,"v":28.27},{"t":5.53,"v":29.64},{"t":5.78,"v":30.25},{"t":6.03,"v":30.48},{"t":6.32,"v":30.11},{"t":6.53,"v":29.34},{"t":6.78,"v":27.91},{"t":7.03,"v":25.91},{"t":7.2,"v":24.17},{"t":7.36,"v":22.4},{"t":7.53,"v":20.6},{"t":7.7,"v":18.7},{"t":7.86,"v":17.47},{"t":8.03,"v":16.5},{"t":8.28,"v":16.2},
{"t":8.57,"v":16.65},{"t":8.82,"v":17.47},{"t":8.97,"v":17.95},{"t":9.2,"v":19.11},{"t":9.43,"v":20.71},{"t":9.66,"v":22.6},{"t":9.89,"v":24.78},{"t":10.12,"v":26.82},{"t":10.36,"v":28.57},{"t":10.58,"v":29.88},{"t":10.82,"v":30.53},{"t":11,"v":30.75},
{"t":11.28,"v":30.47},{"t":11.55,"v":29.62},{"t":11.83,"v":28.22},{"t":12.11,"v":26.24},{"t":12.38,"v":23.71},{"t":12.66,"v":21.03},{"t":12.94,"v":18.5},{"t":13.21,"v":16.95},{"t":13.49,"v":16.67},
{"t":13.71,"v":16.95},{"t":13.93,"v":17.51},{"t":14.15,"v":18.36},{"t":14.37,"v":19.49},{"t":14.58,"v":21.03},{"t":14.8,"v":22.87},{"t":15.02,"v":24.98},{"t":15.24,"v":26.95},{"t":15.46,"v":28.64},{"t":15.68,"v":29.9},{"t":15.9,"v":30.54},{"t":16.07,"v":30.75},
{"t":16.35,"v":30.46},{"t":16.62,"v":29.58},{"t":16.9,"v":28.11},{"t":17.17,"v":26.05},{"t":17.45,"v":23.41},{"t":17.72,"v":20.61},{"t":18,"v":17.97},{"t":18.28,"v":16.35},{"t":18.55,"v":16.06},
{"t":18.77,"v":16.35},{"t":18.99,"v":16.94},{"t":19.21,"v":17.82},{"t":19.43,"v":19},{"t":19.66,"v":20.61},{"t":19.88,"v":22.52},{"t":20.1,"v":24.73},{"t":20.32,"v":26.78},{"t":20.54,"v":28.55},{"t":20.76,"v":29.87},{"t":20.98,"v":30.53},{"t":21.16,"v":30.75},
{"t":21.44,"v":30.46},{"t":21.71,"v":29.58},{"t":21.99,"v":28.11},{"t":22.27,"v":26.07},{"t":22.54,"v":23.43},{"t":22.82,"v":20.65},{"t":23.1,"v":18.01},{"t":23.37,"v":16.4},{"t":23.65,"v":16.11},
{"t":23.87,"v":16.4},{"t":24.1,"v":16.98},{"t":24.32,"v":17.85},{"t":24.54,"v":19.01},{"t":24.77,"v":20.6},{"t":24.99,"v":22.49},{"t":25.21,"v":24.66},{"t":25.43,"v":26.69},{"t":25.66,"v":28.43},{"t":25.88,"v":29.73},{"t":26.1,"v":30.38},{"t":26.28,"v":30.6},
{"t":26.55,"v":30.31},{"t":26.82,"v":29.45},{"t":27.09,"v":28},{"t":27.36,"v":25.98},{"t":27.63,"v":23.39},{"t":27.9,"v":20.64},{"t":28.17,"v":18.05},{"t":28.44,"v":16.46},{"t":28.71,"v":16.17},
{"t":28.93,"v":16.46},{"t":29.15,"v":17.04},{"t":29.36,"v":17.91},{"t":29.58,"v":19.07},{"t":29.8,"v":20.66},{"t":30.02,"v":22.54},{"t":30.23,"v":24.71},{"t":30.45,"v":26.74},{"t":30.67,"v":28.48},{"t":30.89,"v":29.78},{"t":31.11,"v":30.43},{"t":31.28,"v":30.65},
{"t":31.56,"v":30.36},{"t":31.83,"v":29.5},{"t":32.11,"v":28.06},{"t":32.39,"v":26.05},{"t":32.66,"v":23.46},{"t":32.94,"v":20.73},{"t":33.22,"v":18.14},{"t":33.49,"v":16.56},{"t":33.77,"v":16.27},
{"t":33.99,"v":16.56},{"t":34.22,"v":17.14},{"t":34.44,"v":18.01},{"t":34.67,"v":19.17},{"t":34.89,"v":20.76},{"t":35.11,"v":22.64},{"t":35.34,"v":24.81},{"t":35.56,"v":26.84},{"t":35.78,"v":28.58},{"t":36.01,"v":29.88},{"t":36.23,"v":30.53},{"t":36.41,"v":30.75},
{"t":36.66,"v":30.46},{"t":36.92,"v":29.6},{"t":37.17,"v":28.17},{"t":37.43,"v":26.16},{"t":37.68,"v":23.59},{"t":37.94,"v":20.86},{"t":38.19,"v":18.28},{"t":38.45,"v":16.71},{"t":38.7,"v":16.42},
{"t":38.94,"v":16.71},{"t":39.18,"v":17.28},{"t":39.42,"v":18.13},{"t":39.66,"v":19.28},{"t":39.9,"v":20.85},{"t":40.14,"v":22.7},{"t":40.38,"v":24.85},{"t":40.62,"v":26.84},{"t":40.86,"v":28.56},{"t":41.1,"v":29.84},{"t":41.34,"v":30.49},{"t":41.53,"v":30.7},
{"t":41.79,"v":30.41},{"t":42.05,"v":29.54},{"t":42.31,"v":28.08},{"t":42.57,"v":26.05},{"t":42.83,"v":23.43},{"t":43.09,"v":20.67},{"t":43.35,"v":18.05},{"t":43.61,"v":16.45},{"t":43.87,"v":16.16},{"t":44.1,"v":16.22},{"t":44.3,"v":16.32},{"t":44.5,"v":16.37}]
},
"vconcat": [
{
  "width": 1852, "height": 426,
  "data": {"name": "dt"},
  "layer": [
    {
      "mark": {"type": "rule", "color": "black", "strokeWidth": 2},
      "encoding": {
        "x": {"datum": 0, "type": "quantitative", "axis": {"orient": "bottom", "values": [1,2,3,4,6,7,8,9,11,12,13,14,16,17,18,19,21,22,23,24,26,27,28,29,31,32,33,34,36,37,38,39,41,42,43,44,46], "grid": true, "gridColor": "#c8c8c8", "gridDash": [4,3], "gridWidth": 1, "labels": false, "ticks": false, "domain": false, "title": null}},
        "y": {"datum": 0, "type": "quantitative", "axis": {"orient": "left", "values": [1,2,3,4,6,7,8,9,11,12,13,14,16,17,18,19,21,22,23,24,26,27,28,29,31,32,33,34,36,37,38,39,41,42,43,44], "grid": true, "gridColor": "#c8c8c8", "gridDash": [4,3], "gridWidth": 1, "labels": false, "ticks": false, "domain": false, "title": null}},
        "y2": {"datum": 47.77}
      }
    },
    {
      "mark": {"type": "line", "color": "#0000cd", "strokeWidth": 1},
      "encoding": {
        "x": {"field": "t", "type": "quantitative", "scale": {"domain": [0, 46.38], "nice": false, "zero": false}, "axis": {"orient": "bottom", "values": [5,10,15,20,25,30,35,40,45], "grid": true, "gridColor": "#a0a0a0", "gridWidth": 1, "labels": false, "ticks": false, "domain": true, "domainColor": "black", "domainWidth": 2, "title": null}},
        "y": {"field": "v", "type": "quantitative", "scale": {"domain": [0, 51.26], "nice": false, "zero": false}, "axis": {"orient": "left", "values": [0,5,10,15,20,25,30,35,40,45], "grid": true, "gridColor": "#a0a0a0", "gridWidth": 1, "labels": true, "labelPadding": 6, "labelBaseline": "alphabetic", "labelAlign": "right", "ticks": false, "domain": false, "title": "Δt/ms", "titleColor": "#2323c8", "titleAngle": 0, "titleAlign": "left", "titleBaseline": "alphabetic", "titleX": -43, "titleY": 23}}
      }
    },
    {
      "mark": {"type": "point", "shape": "M-1,2.4L0,0L1,2.4", "size": 121, "filled": false, "color": "black", "strokeWidth": 2, "opacity": 1},
      "encoding": {
        "x": {"datum": 0, "type": "quantitative", "axis": null},
        "y": {"datum": 47.77, "type": "quantitative", "axis": null}
      }
    }
  ],
  "resolve": {"axis": {"x": "independent", "y": "independent"}}
},
{
  "width": 1852, "height": 427,
  "data": {"name": "liss"},
  "layer": [
    {
      "mark": {"type": "rule", "color": "black", "strokeWidth": 2},
      "encoding": {
        "x": {"datum": 0, "type": "quantitative", "axis": {"orient": "bottom", "values": [1,2,3,4,6,7,8,9,11,12,13,14,16,17,18,19,21,22,23,24,26,27,28,29,31,32,33,34,36,37,38,39,41,42,43,44,46], "grid": true, "gridColor": "#c8c8c8", "gridDash": [4,3], "gridWidth": 1, "labels": false, "ticks": false, "domain": false, "title": null}},
        "y": {"datum": 15.43, "type": "quantitative", "axis": {"orient": "left", "values": [15.5,16.5,17,17.5,18.5,19,19.5,20.5,21,21.5,22.5,23,23.5,24.5,25,25.5,26.5,27,27.5,28.5,29,29.5,30.5,31], "grid": true, "gridColor": "#c8c8c8", "gridDash": [4,3], "gridWidth": 1, "labels": false, "ticks": false, "domain": false, "title": null}},
        "y2": {"datum": 31.82}
      }
    },
    {
      "mark": {"type": "line", "color": "#cc1a2a", "strokeWidth": 1, "interpolate": "monotone"},
      "encoding": {
        "x": {"field": "t", "type": "quantitative", "scale": {"domain": [0, 46.38], "nice": false, "zero": false}, "axis": {"orient": "bottom", "values": [5,10,15,20,25,30,35,40,45], "grid": true, "gridColor": "#a0a0a0", "gridWidth": 1, "labels": true, "labelPadding": 11, "labelBaseline": "top", "labelAlign": "center", "ticks": false, "domain": true, "domainColor": "black", "domainWidth": 2, "title": "t/10³ ms", "titleAngle": 0, "titleAlign": "right", "titleBaseline": "alphabetic", "titleX": 1844, "titleY": 45}},
        "y": {"field": "v", "type": "quantitative", "scale": {"domain": [15.43, 33.1], "nice": false, "zero": false}, "axis": {"orient": "left", "values": [16,18,20,22,24,26,28,30], "grid": true, "gridColor": "#a0a0a0", "gridWidth": 1, "labels": true, "labelPadding": 6, "labelBaseline": "alphabetic", "labelAlign": "right", "ticks": false, "domain": false, "title": "ΔtLiss/ms", "titleColor": "#d0202a", "titleAngle": 0, "titleAlign": "left", "titleBaseline": "alphabetic", "titleX": -43, "titleY": 24}}
      }
    },
    {
      "mark": {"type": "point", "shape": "M-1,2.4L0,0L1,2.4", "size": 121, "filled": false, "color": "black", "strokeWidth": 2, "opacity": 1},
      "encoding": {
        "x": {"datum": 0, "type": "quantitative", "axis": null},
        "y": {"datum": 31.82, "type": "quantitative", "axis": null}
      }
    },
    {
      "mark": {"type": "point", "shape": "M-2.2,-1L0,0L-2.2,1", "size": 144, "filled": false, "color": "black", "strokeWidth": 2, "opacity": 1},
      "encoding": {
        "x": {"datum": 46.36, "type": "quantitative", "axis": null},
        "y": {"datum": 15.43, "type": "quantitative", "axis": null}
      }
    }
  ],
  "resolve": {"axis": {"x": "independent", "y": "independent"}}
}
]
}
